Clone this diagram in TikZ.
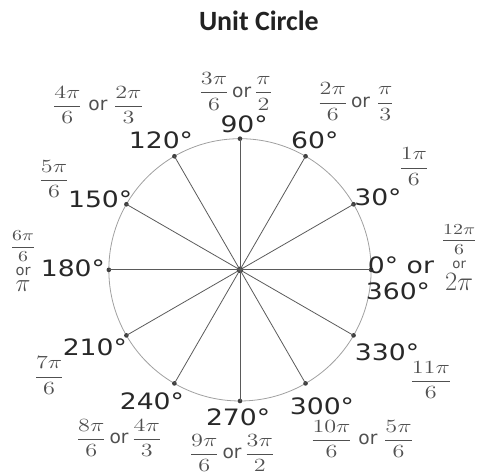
\RequirePackage{fix-cm}
\documentclass[tikz,border=0pt]{standalone}
\usepackage{amsmath}
\usepackage{graphicx}
\usepackage{fontspec}
\usepackage{xcolor}
\usepackage{tikz}
\usetikzlibrary{positioning}
\setmainfont{DejaVu Sans}
\newfontfamily\titlefont{Carlito}
\newfontfamily\fuentegrados{DejaVu Sans}[FakeStretch=1.18]
\newcommand{\fracancha}[2]{\scalebox{1.3}[1]{$\dfrac{#1}{#2}$}}
\definecolor{TintaTitulo}{RGB}{34,34,34}
\definecolor{TintaGrados}{RGB}{40,40,40}
\definecolor{TintaFraccion}{RGB}{80,80,80}
\definecolor{GrisCirculo}{RGB}{160,160,160}
\definecolor{GrisRadio}{RGB}{90,90,90}
\tikzset{
  grados/.style={font=\fuentegrados\fontsize{17}{19}\selectfont,text=TintaGrados,inner sep=0pt},
  fraccion/.style={font=\fontsize{14}{16}\selectfont,text=TintaFraccion,inner sep=0pt,align=center},
  pila/.style={fraccion,font=\fontsize{11.5}{12}\selectfont},
  punto/.style={circle,fill=GrisRadio!70!black,inner sep=0pt,minimum size=3.5pt},
  radio/.style={GrisRadio,line width=0.6pt}
}

\begin{document}
\begin{tikzpicture}[scale=1]
  \useasboundingbox (-6.35,-5.40) rectangle (6.43,7.14);
  \node[font=\titlefont\bfseries\fontsize{21}{23}\selectfont,TintaTitulo] (titulo) at (0.50,6.58) {Unit Circle};
  \draw[GrisCirculo,line width=0.6pt] (0,0) circle (3.47);
  \node[punto,minimum size=5pt] (o) at (0,0) {};
  \foreach \a in {0,30,...,330} {
    \node[punto] (p\a) at (\a:3.47) {};
    \draw[radio] (o.center) -- (p\a.center);
  }
  % grados
  \node[grados] (g90) at (0.11,3.86) {90°};
  \node[grados] (g120) at (-2.09,3.44) {120°};
  \node[grados] (g60) at (1.98,3.44) {60°};
  \node[grados] (g150) at (-3.70,1.88) {150°};
  \node[grados] (g30) at (3.65,1.93) {30°};
  \node[grados] (g180) at (-4.42,0.03) {180°};
  \node[grados] (g0) at (4.26,0.13) {0° or};
  \node[grados] (g360) at (4.18,-0.58) {360°};
  \node[grados] (g210) at (-3.84,-2.04) {210°};
  \node[grados] (g330) at (3.89,-2.17) {330°};
  \node[grados] (g240) at (-2.33,-3.49) {240°};
  \node[grados] (g270) at (-0.05,-3.89) {270°};
  \node[grados] (g300) at (2.17,-3.60) {300°};
  % radianes
  \node[fraccion] (r120) at (-3.76,4.37) {\fracancha{4\pi}{6} or \fracancha{2\pi}{3}};
  \node[fraccion] (r90) at (-0.11,4.72) {\fracancha{3\pi}{6}\,or\,\fracancha{\pi}{2}};
  \node[fraccion] (r60) at (3.07,4.45) {\fracancha{2\pi}{6}\,or \fracancha{\pi}{3}};
  \node[fraccion] (r30) at (4.60,2.73) {\fracancha{1\pi}{6}};
  \node[fraccion] (r150) at (-4.92,2.41) {\fracancha{5\pi}{6}};
  \node[pila] (r180) at (-5.74,0.62) {\fracancha{6\pi}{6}};
  \node[pila,font=\fontsize{11}{11}\selectfont,below=4pt of r180] (r180o) {or};
  \node[pila,font=\fontsize{19}{19}\selectfont,below=3pt of r180o] (r180p) {$\pi$};
  \node[pila] (r0) at (5.80,0.80) {\fracancha{12\pi}{6}};
  \node[pila,font=\fontsize{10}{10}\selectfont,below=4pt of r0] (r0o) {or};
  \node[pila,font=\fontsize{20}{20}\selectfont,below=3pt of r0o] (r0p) {$2\pi$};
  \node[fraccion] (r210) at (-5.05,-2.80) {\fracancha{7\pi}{6}};
  \node[fraccion] (r330) at (5.05,-2.91) {\fracancha{11\pi}{6}};
  \node[fraccion] (r240) at (-3.20,-4.45) {\fracancha{8\pi}{6}\,or\,\fracancha{4\pi}{3}};
  \node[fraccion] (r270) at (-0.21,-4.84) {\fracancha{9\pi}{6}\,or\,\fracancha{3\pi}{2}};
  \node[fraccion] (r300) at (3.23,-4.47) {\fracancha{10\pi}{6} or \fracancha{5\pi}{6}};
\end{tikzpicture}
\end{document}
